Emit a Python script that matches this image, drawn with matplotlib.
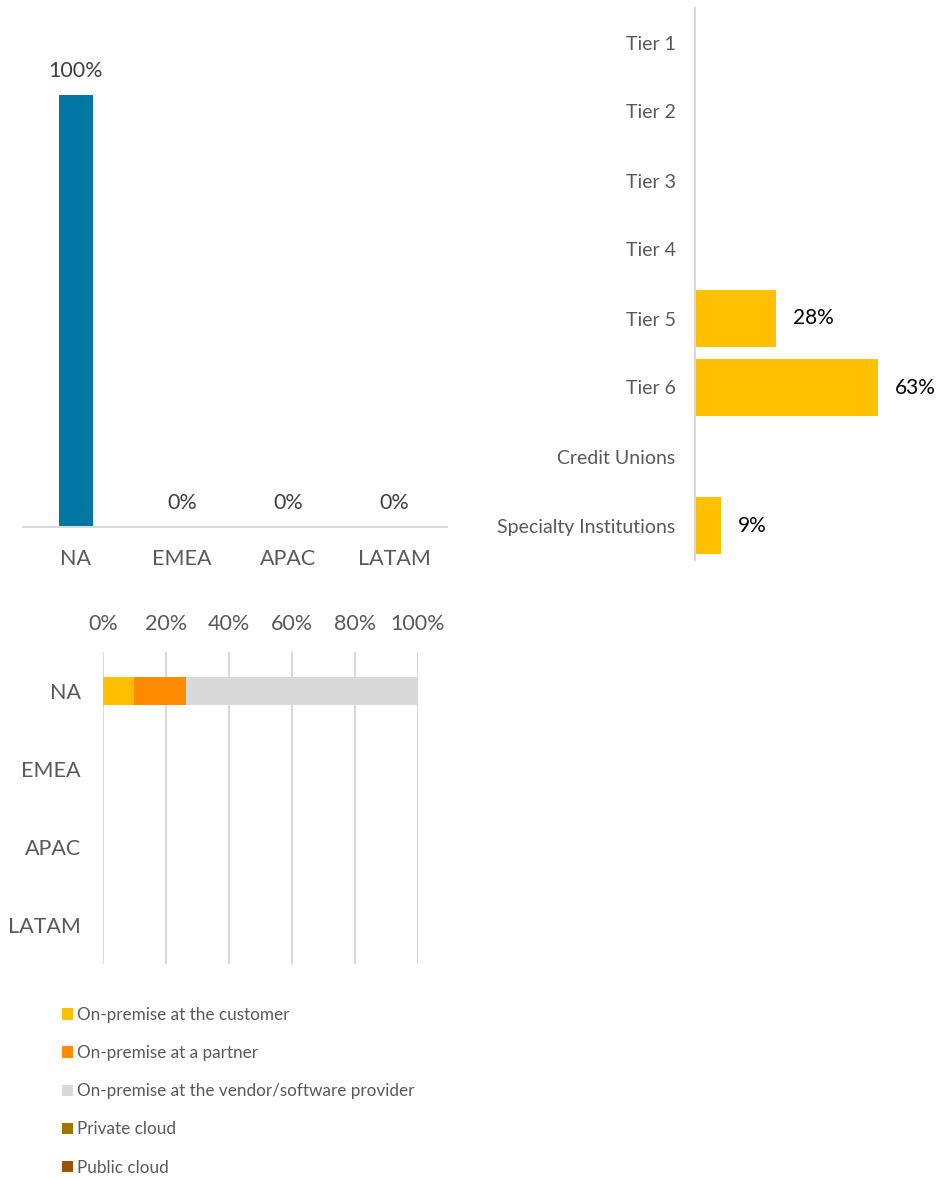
import matplotlib
matplotlib.use("Agg")
import matplotlib.pyplot as plt
from matplotlib.patches import Patch

plt.rcParams['font.family'] = ['Lato', 'DejaVu Sans']

# Regional split
regions = ["NA", "EMEA", "APAC", "LATAM"]
region_share = [100, 0, 0, 0]

# Institution tiers
tiers = ["Tier 1", "Tier 2", "Tier 3", "Tier 4", "Tier 5", "Tier 6",
         "Credit Unions", "Specialty Institutions"]
tier_share = [None, None, None, None, 28, 63, None, 9]

# Deployment model by region
deploy_labels = ["On-premise at the customer", "On-premise at a partner",
                 "On-premise at the vendor/software provider",
                 "Private cloud", "Public cloud"]
deploy_customer = [9.8, 0, 0, 0]
deploy_partner = [16.5, 0, 0, 0]
deploy_vendor = [73.7, 0, 0, 0]
deploy_private = [0, 0, 0, 0]
deploy_public = [0, 0, 0, 0]
deploy_series = [deploy_customer, deploy_partner, deploy_vendor,
                 deploy_private, deploy_public]
x_ticks = [0, 20, 40, 60, 80, 100]

BLUE = "#0076A3"
GOLD = "#FFC000"
deploy_colors = ["#FFC000", "#FF8C00", "#D9D9D9", "#9C7600", "#9C5200"]
GRID = "#D9D9D9"
TICK = "#595959"

W, H = 942, 1178
fig = plt.figure(figsize=(W / 100, H / 100), dpi=100)


def px_axes(left, top, right, bottom):
    return fig.add_axes([left / W, 1 - bottom / H, (right - left) / W, (bottom - top) / H])


# ---- Region column chart ----
ax1 = px_axes(23, 8, 447, 527)
xs = range(len(regions))
ax1.bar(xs, [v / 100 for v in region_share], width=0.32, color=BLUE)
for x, v in zip(xs, region_share):
    ax1.annotate(f"{v}%", (x, v / 100), xytext=(0, 10), textcoords="offset points",
                 ha="center", va="bottom", fontsize=15.5, color="#404040")
ax1.set_xlim(-0.5, 3.5)
ax1.set_ylim(0, 1.2)
ax1.set_xticks(list(xs))
ax1.set_xticklabels(regions, fontsize=15.5, color=TICK)
ax1.tick_params(axis="x", length=0, pad=16)
ax1.set_yticks([])
for s in ["top", "left", "right"]:
    ax1.spines[s].set_visible(False)
ax1.spines["bottom"].set_color(GRID)
ax1.spines["bottom"].set_linewidth(1.5)

# ---- Tier bar chart ----
ax2 = px_axes(695, 8, 942, 560)
ys = list(range(len(tiers)))
vals = [0 if v is None else v / 100 for v in tier_share]
ax2.barh(ys, vals, height=0.83, color=GOLD)
for y, v in zip(ys, tier_share):
    if v is not None:
        ax2.annotate(f"{v}%", (v / 100, y), xytext=(12, 0), textcoords="offset points",
                     ha="left", va="center", fontsize=15, color="black")
ax2.set_ylim(len(tiers) - 0.5, -0.5)
ax2.set_xlim(0, 0.85)
ax2.set_yticks(ys)
ax2.set_yticklabels(tiers, fontsize=14, color=TICK)
ax2.tick_params(axis="y", length=0, pad=14)
ax2.set_xticks([])
for s in ["top", "bottom", "right"]:
    ax2.spines[s].set_visible(False)
ax2.spines["left"].set_color(GRID)
ax2.spines["left"].set_linewidth(1.5)

# ---- Deployment stacked bar chart ----
ax3 = px_axes(103, 652, 418, 964)
ys3 = list(range(len(regions)))
left = [0] * len(regions)
handles = []
for label, series, color in zip(deploy_labels, deploy_series, deploy_colors):
    ax3.barh(ys3, series, left=left, height=0.36, color=color, label=label)
    left = [a + b for a, b in zip(left, series)]
    handles.append(Patch(facecolor=color, label=label))
ax3.set_ylim(len(regions) - 0.5, -0.5)
ax3.set_xlim(0, 100)
ax3.set_xticks(x_ticks)
ax3.set_xticklabels([f"{t}%" for t in x_ticks], fontsize=15.5, color=TICK)
ax3.xaxis.tick_top()
ax3.tick_params(axis="x", length=0, pad=13)
ax3.set_yticks(ys3)
ax3.set_yticklabels(regions, fontsize=15.5, color=TICK)
ax3.tick_params(axis="y", length=0, pad=16)
ax3.grid(axis="x", color=GRID, linewidth=1.5)
ax3.set_axisbelow(True)
for s in ax3.spines.values():
    s.set_visible(False)

leg = fig.legend(handles=handles, loc="upper left",
                 bbox_to_anchor=(55 / W, 1 - 1000 / H), frameon=False,
                 fontsize=12.3, handlelength=0.65, handleheight=0.65,
                 handletextpad=0.25, labelspacing=1.3, borderaxespad=0)
for t in leg.get_texts():
    t.set_color(TICK)

fig.savefig("out.png", dpi=100)
